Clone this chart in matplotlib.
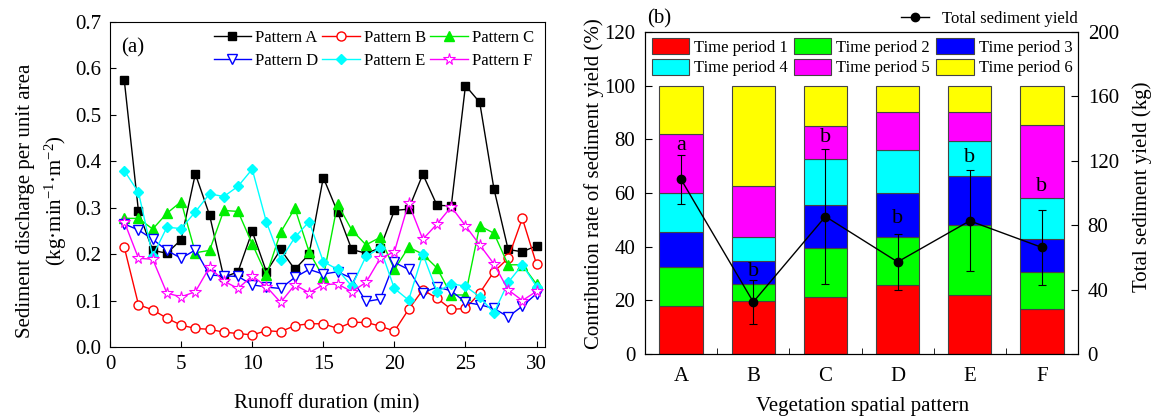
import numpy as np
import matplotlib.pyplot as plt
from matplotlib.lines import Line2D

plt.rcParams['font.family'] = 'Liberation Serif'
plt.rcParams['mathtext.fontset'] = 'custom'
plt.rcParams['mathtext.rm'] = 'Liberation Serif'
plt.rcParams['mathtext.it'] = 'Liberation Serif:italic'

# (a) sediment discharge per unit area, kg/min/m2
minutes = np.arange(1, 31)
pattern_a = [0.575, 0.292, 0.208, 0.202, 0.231, 0.373, 0.284, 0.150, 0.162, 0.249,
             0.162, 0.210, 0.167, 0.200, 0.365, 0.291, 0.210, 0.202, 0.213, 0.294,
             0.297, 0.372, 0.305, 0.304, 0.563, 0.527, 0.341, 0.210, 0.205, 0.218]
pattern_b = [0.215, 0.091, 0.080, 0.062, 0.047, 0.040, 0.038, 0.032, 0.029, 0.026,
             0.035, 0.033, 0.046, 0.050, 0.050, 0.040, 0.053, 0.053, 0.045, 0.034,
             0.081, 0.123, 0.105, 0.081, 0.083, 0.116, 0.162, 0.191, 0.277, 0.178]
pattern_c = [0.277, 0.277, 0.254, 0.288, 0.313, 0.203, 0.208, 0.294, 0.292, 0.222,
             0.155, 0.247, 0.299, 0.205, 0.150, 0.308, 0.252, 0.220, 0.236, 0.167,
             0.215, 0.200, 0.170, 0.112, 0.112, 0.261, 0.245, 0.177, 0.177, 0.135]
pattern_d = [0.265, 0.252, 0.232, 0.208, 0.191, 0.209, 0.155, 0.153, 0.152, 0.134,
             0.129, 0.126, 0.150, 0.167, 0.157, 0.162, 0.148, 0.098, 0.103, 0.182,
             0.167, 0.117, 0.129, 0.121, 0.096, 0.091, 0.083, 0.065, 0.088, 0.115]
pattern_e = [0.380, 0.333, 0.196, 0.258, 0.255, 0.291, 0.330, 0.324, 0.346, 0.383,
             0.269, 0.188, 0.236, 0.270, 0.184, 0.167, 0.131, 0.195, 0.213, 0.126,
             0.101, 0.200, 0.119, 0.136, 0.131, 0.108, 0.073, 0.139, 0.177, 0.130]
pattern_f = [0.270, 0.191, 0.189, 0.116, 0.108, 0.119, 0.172, 0.142, 0.126, 0.153,
             0.130, 0.096, 0.134, 0.117, 0.134, 0.136, 0.119, 0.139, 0.191, 0.205,
             0.310, 0.232, 0.265, 0.302, 0.261, 0.220, 0.179, 0.123, 0.100, 0.120]

# (b) contribution of each time period (%) and total sediment yield (kg)
patterns = ['A', 'B', 'C', 'D', 'E', 'F']
period_1 = [18.0, 19.7, 21.4, 25.6, 22.0, 16.9]
period_2 = [14.3, 6.5, 18.1, 17.9, 26.1, 13.8]
period_3 = [13.1, 8.4, 16.1, 16.5, 18.2, 12.1]
period_4 = [14.5, 9.0, 17.2, 16.0, 13.0, 15.5]
period_5 = [22.1, 19.1, 12.1, 14.2, 10.9, 26.9]
period_6 = [18.0, 37.3, 15.1, 9.8, 9.8, 14.8]
total_yield = [108.4, 32.3, 85.4, 57.2, 82.7, 66.2]
yield_err = [15.0, 13.4, 42.0, 17.5, 31.4, 23.5]
sig_letters = ['a', 'b', 'b', 'b', 'b', 'b']
letter_y = [129.6, 51.0, 134.3, 84.0, 122.0, 104.3]

fig = plt.figure(figsize=(11.62, 4.18), dpi=100)

# ---- panel (a)
ax = fig.add_axes([0.0947, 0.1699, 0.3744, 0.7775])
ax.plot(minutes, pattern_a, '-s', color='k', ms=5.5, lw=1, label='Pattern A')
ax.plot(minutes, pattern_b, '-o', color='red', mfc='white', ms=6.5, lw=1, label='Pattern B')
ax.plot(minutes, pattern_c, '-^', color='#00ee00', ms=6.5, lw=1, label='Pattern C')
ax.plot(minutes, pattern_d, '-v', color='blue', mfc='white', ms=7, lw=1, label='Pattern D')
ax.plot(minutes, pattern_e, '-D', color='cyan', ms=5, lw=1, label='Pattern E')
ax.plot(minutes, pattern_f, '-*', color='magenta', mfc='white', ms=8.5, mew=0.8, lw=1, label='Pattern F')
ax.set_xlim(0, 30.6)
ax.set_ylim(0, 0.7)
ax.set_xticks(range(0, 31, 5))
ax.set_yticks(np.arange(0, 0.71, 0.1))
ax.set_yticklabels([f'{v:.1f}' for v in np.arange(0, 0.71, 0.1)])
ax.tick_params(direction='in', length=4.5, labelsize=15, pad=6)
ax.set_xlabel('Runoff duration (min)', fontsize=15)
ax.xaxis.set_label_coords(0.498, -0.145)
ax.text(-0.155, 0.45, 'Sediment discharge per unit area\n(kg·min$^{-1}$·m$^{-2}$)',
        transform=ax.transAxes, rotation=90, ha='center', va='center',
        fontsize=15, multialignment='center', linespacing=1.4)
ax.text(0.025, 0.92, '(a)', transform=ax.transAxes, fontsize=15, va='center')
h, l = ax.get_legend_handles_labels()
order = [0, 3, 1, 4, 2, 5]
ax.legend([h[i] for i in order], [l[i] for i in order], ncol=3, frameon=False,
          loc='upper right', bbox_to_anchor=(0.975, 0.975), borderaxespad=0,
          borderpad=0, fontsize=12, handlelength=2.25, handletextpad=0.25,
          columnspacing=0.25, labelspacing=0.42)

# ---- panel (b)
bx = fig.add_axes([0.5551, 0.1531, 0.3726, 0.7703])
x = np.arange(len(patterns))
colors = ['red', '#00ff00', 'blue', 'cyan', 'magenta', 'yellow']
periods = [period_1, period_2, period_3, period_4, period_5, period_6]
bottom = np.zeros(len(patterns))
for i, (vals, c) in enumerate(zip(periods, colors)):
    bx.bar(x, vals, 0.6, bottom=bottom, color=c, edgecolor='#444444', lw=0.8,
           label=f'Time period {i + 1}')
    bottom += np.array(vals)
bx.set_xlim(-0.5, 5.5)
bx.set_ylim(0, 120)
bx.set_yticks(range(0, 121, 20))
bx.set_xticks(x)
bx.set_xticklabels(patterns)
bx.set_xticks(np.arange(0.5, 5, 1), minor=True)
bx.tick_params(axis='x', which='major', length=0, labelsize=15, pad=9)
bx.tick_params(axis='x', which='minor', direction='in', length=4)
bx.tick_params(axis='y', direction='in', length=5, labelsize=15, pad=7)
bx.set_xlabel('Vegetation spatial pattern', fontsize=15)
bx.xaxis.set_label_coords(0.503, -0.135)
bx.set_ylabel('Contribution rate of sediment yield (%)', fontsize=15)
bx.yaxis.set_label_coords(-0.095, 0.53)
bx.text(0.005, 1.04, '(b)', transform=bx.transAxes, fontsize=15, va='center')
h, l = bx.get_legend_handles_labels()
bx.legend([h[i] for i in order], [l[i] for i in order], ncol=3, frameon=False,
          loc='upper left', bbox_to_anchor=(0.015, 0.98), borderaxespad=0,
          borderpad=0, fontsize=12, handlelength=2.25, handleheight=1.1,
          handletextpad=0.3, columnspacing=0.36, labelspacing=0.15)

tx = bx.twinx()
tx.errorbar(x, total_yield, yerr=yield_err, color='k', marker='o', ms=6, lw=1,
            elinewidth=0.8, capsize=3, capthick=0.8)
for xi, yi, s in zip(x, letter_y, sig_letters):
    tx.text(xi, yi, s, ha='center', va='center', fontsize=16)
tx.set_ylim(0, 200)
tx.set_yticks(range(0, 201, 40))
tx.tick_params(direction='in', length=5, labelsize=15, pad=7)
tx.set_ylabel('Total sediment yield (kg)', fontsize=15)
tx.yaxis.set_label_coords(1.125, 0.52)
total_handle = Line2D([], [], color='k', marker='o', ms=6, lw=1)
tx.legend([total_handle], ['Total sediment yield'], loc='lower right',
          bbox_to_anchor=(1.0, 1.015), frameon=False, borderaxespad=0,
          borderpad=0, fontsize=12, handlelength=1.7, handletextpad=0.8)

plt.savefig('out.png', dpi=100)
